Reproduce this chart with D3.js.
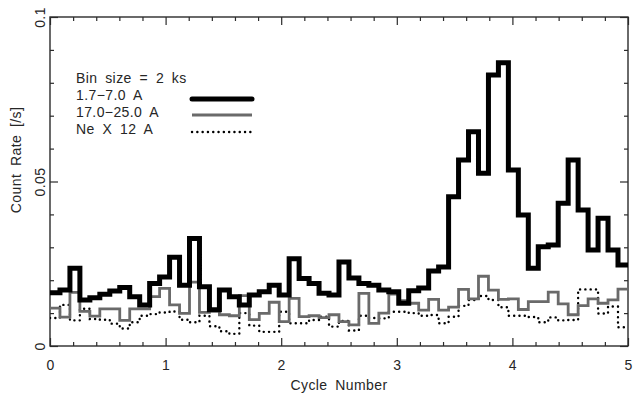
<!DOCTYPE html>
<html>
<head>
<meta charset="utf-8">
<script src="https://cdn.jsdelivr.net/npm/d3@7"></script>
<style>
  html, body { margin: 0; padding: 0; background: #fff; }
  svg { display: block; }
  text { font-family: "Liberation Sans", "DejaVu Sans", sans-serif; fill: #262626; word-spacing: 3.5px; letter-spacing: 0.4px; }
</style>
</head>
<body>
<svg id="chart" width="642" height="399"></svg>
<script>
// Light curve binned at 2 ks; one bin expressed in orbital cycles
const binCycles = 0.0862;

// 1.7-7.0 A band count rate per bin [/s]
const hardBand = [
  0.0162, 0.0170, 0.0236, 0.0140, 0.0147, 0.0157, 0.0167, 0.0178, 0.0150, 0.0125,
  0.0190, 0.0210, 0.0270, 0.0185, 0.0327, 0.0180, 0.0110, 0.0170, 0.0150, 0.0125,
  0.0155, 0.0165, 0.0185, 0.0155, 0.0265, 0.0205, 0.0190, 0.0160, 0.0155, 0.0255,
  0.0207, 0.0190, 0.0185, 0.0170, 0.0165, 0.0130, 0.0168, 0.0176, 0.0228, 0.0240,
  0.0454, 0.0565, 0.0651, 0.0525, 0.0824, 0.0861, 0.0535, 0.0398, 0.0236, 0.0302,
  0.0307, 0.0434, 0.0565, 0.0413, 0.0292, 0.0388, 0.0292, 0.0246
];

// 17.0-25.0 A band count rate per bin [/s]
const softBand = [
  0.0115, 0.0088, 0.0163, 0.0105, 0.0091, 0.0113, 0.0113, 0.0078, 0.0113, 0.0113,
  0.0150, 0.0175, 0.0125, 0.0099, 0.0194, 0.0102, 0.0106, 0.0095, 0.0092, 0.0153,
  0.0080, 0.0099, 0.0133, 0.0074, 0.0145, 0.0089, 0.0092, 0.0086, 0.0095, 0.0074,
  0.0064, 0.0160, 0.0069, 0.0100, 0.0158, 0.0138, 0.0130, 0.0109, 0.0142, 0.0109,
  0.0118, 0.0172, 0.0143, 0.0212, 0.0170, 0.0142, 0.0143, 0.0111, 0.0135, 0.0135,
  0.0164, 0.0128, 0.0095, 0.0123, 0.0143, 0.0130, 0.0140, 0.0173
];

// Ne X 12 A line count rate per bin [/s]
const neLine = [
  0.0085, 0.0125, 0.0078, 0.0113, 0.0082, 0.0080, 0.0068, 0.0053, 0.0072, 0.0092,
  0.0097, 0.0102, 0.0105, 0.0080, 0.0072, 0.0092, 0.0060, 0.0045, 0.0037, 0.0100,
  0.0062, 0.0043, 0.0043, 0.0104, 0.0069, 0.0069, 0.0079, 0.0089, 0.0059, 0.0076,
  0.0047, 0.0092, 0.0085, 0.0084, 0.0104, 0.0104, 0.0100, 0.0092, 0.0094, 0.0069,
  0.0089, 0.0122, 0.0140, 0.0152, 0.0140, 0.0118, 0.0092, 0.0092, 0.0088, 0.0072,
  0.0087, 0.0078, 0.0079, 0.0172, 0.0172, 0.0099, 0.0120, 0.0057
];

const xDomain = [0, 5];
const yDomain = [0, 0.1];
const xMajorTicks = [0, 1, 2, 3, 4, 5];
const xTickLabels = ["0", "1", "2", "3", "4", "5"];
const xMinorStep = 0.2;
const yMajorTicks = [0, 0.05, 0.1];
const yTickLabels = ["0", "0.05", "0.1"];
const yMinorStep = 0.01;

const xTitle = "Cycle Number";
const yTitle = "Count Rate [/s]";
const legendTitle = "Bin size = 2 ks";
const seriesNames = ["1.7\u22127.0 A", "17.0\u221225.0 A", "Ne X 12 A"];

const plot = { left: 50, right: 628, top: 17, bottom: 346 };

const svg = d3.select("#chart");

const x = d3.scaleLinear().domain(xDomain).range([plot.left, plot.right]);
const y = d3.scaleLinear().domain(yDomain).range([plot.bottom, plot.top]);

const minorX = d3.range(xDomain[0], xDomain[1] + 1e-9, xMinorStep)
  .filter(v => !xMajorTicks.some(m => Math.abs(m - v) < 1e-6));
const minorY = d3.range(yDomain[0], yDomain[1] + 1e-9, yMinorStep)
  .filter(v => !yMajorTicks.some(m => Math.abs(m - v) < 1e-6));

const axisColor = "#2b2b2b";
const majorLen = 8, minorLen = 4;

function addAxis(axisFn, scale, ticks, len, translate, labels) {
  const a = axisFn(scale).tickValues(ticks).tickSizeInner(-len).tickSizeOuter(0);
  a.tickFormat(labels ? ((d, i) => labels[i]) : "");
  const g = svg.append("g")
    .attr("transform", translate)
    .style("color", axisColor);
  g.call(a);
  g.select(".domain").remove();
  g.selectAll(".tick line").attr("stroke-width", 1.2);
  return g;
}

// bottom axis with labels
const gx = addAxis(d3.axisBottom, x, xMajorTicks, majorLen, `translate(0,${plot.bottom})`, xTickLabels);
gx.selectAll(".tick text")
  .attr("y", 24).attr("dy", 0)
  .style("font-size", "14px")
  .style("font-family", null)
  .style("fill", "#262626");
gx.attr("font-family", null);
addAxis(d3.axisBottom, x, minorX, minorLen, `translate(0,${plot.bottom})`, null);

// top axis ticks
addAxis(d3.axisTop, x, xMajorTicks, majorLen, `translate(0,${plot.top})`, null);
addAxis(d3.axisTop, x, minorX, minorLen, `translate(0,${plot.top})`, null);

// left axis with rotated labels
const gy = addAxis(d3.axisLeft, y, yMajorTicks, majorLen, `translate(${plot.left},0)`, yTickLabels);
gy.attr("font-family", null);
gy.selectAll(".tick text")
  .attr("transform", "rotate(-90)")
  .attr("x", 0).attr("y", -5).attr("dy", 0)
  .attr("text-anchor", "middle")
  .style("font-size", "14px")
  .style("fill", "#262626");
addAxis(d3.axisLeft, y, minorY, minorLen, `translate(${plot.left},0)`, null);

// right axis ticks
addAxis(d3.axisRight, y, yMajorTicks, majorLen, `translate(${plot.right},0)`, null);
addAxis(d3.axisRight, y, minorY, minorLen, `translate(${plot.right},0)`, null);

// frame
svg.append("rect")
  .attr("x", plot.left).attr("y", plot.top)
  .attr("width", plot.right - plot.left).attr("height", plot.bottom - plot.top)
  .attr("fill", "none").attr("stroke", axisColor).attr("stroke-width", 1.4);

// axis titles
svg.append("text")
  .attr("x", (plot.left + plot.right) / 2).attr("y", 390)
  .attr("text-anchor", "middle").style("font-size", "14px")
  .text(xTitle);
svg.append("text")
  .attr("transform", `translate(21,160) rotate(-90)`)
  .attr("text-anchor", "middle").style("font-size", "14px")
  .text(yTitle);

// step curves
svg.append("clipPath").attr("id", "plotClip")
  .append("rect")
  .attr("x", plot.left).attr("y", plot.top)
  .attr("width", plot.right - plot.left).attr("height", plot.bottom - plot.top);

const stepLine = d3.line()
  .x(d => x(d[0])).y(d => y(d[1]))
  .curve(d3.curveStepAfter);

function stepPoints(values) {
  const pts = values.map((v, i) => [i * binCycles, v]);
  pts.push([values.length * binCycles, values[values.length - 1]]);
  return pts;
}

const styles = [
  { data: hardBand, stroke: "#000", width: 5, dash: null, cap: "round" },
  { data: softBand, stroke: "#6a6a6a", width: 2.8, dash: null, cap: "butt" },
  { data: neLine,   stroke: "#000", width: 2.4, dash: "0.1,5.2", cap: "round" }
];

const curves = svg.append("g").attr("clip-path", "url(#plotClip)");
// dotted first, then grey, then the thick black curve on top
[2, 1, 0].forEach(k => {
  const s = styles[k];
  curves.append("path")
    .attr("d", stepLine(stepPoints(s.data)))
    .attr("fill", "none")
    .attr("stroke", s.stroke)
    .attr("stroke-width", s.width)
    .attr("stroke-linejoin", "miter")
    .attr("stroke-linecap", s.cap)
    .attr("stroke-dasharray", s.dash);
});

// legend
const legend = svg.append("g");
legend.append("text").attr("x", 76).attr("y", 83).style("font-size", "14px").text(legendTitle);
const legendRows = [100, 117, 134];
const legendLineY = [99, 115, 132];
seriesNames.forEach((name, i) => {
  legend.append("text").attr("x", 76).attr("y", legendRows[i]).style("font-size", "14px").text(name);
  legend.append("line")
    .attr("x1", 192).attr("x2", 252)
    .attr("y1", legendLineY[i]).attr("y2", legendLineY[i])
    .attr("stroke", styles[i].stroke)
    .attr("stroke-width", styles[i].width)
    .attr("stroke-linecap", styles[i].cap)
    .attr("stroke-dasharray", styles[i].dash);
});
</script>
</body>
</html>
